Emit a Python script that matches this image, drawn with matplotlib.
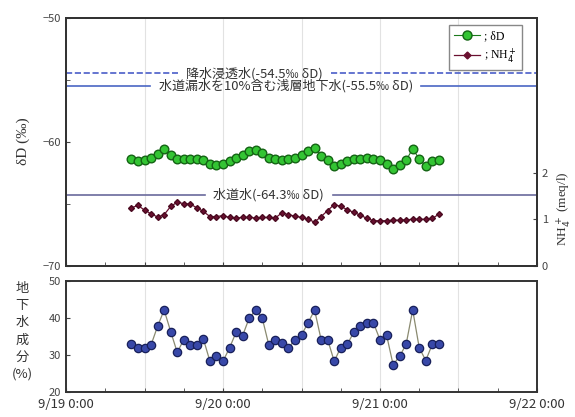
import numpy as np
import matplotlib
matplotlib.use("Agg")
import matplotlib.pyplot as plt
from matplotlib.lines import Line2D

plt.rcParams['font.family'] = ['Noto Sans CJK JP', 'DejaVu Sans']

# hourly samples, hours counted from 9/19 0:00
hours = np.arange(10, 58)

delta_d = [-61.4, -61.6, -61.5, -61.3, -61.0, -60.6, -61.1, -61.4, -61.4, -61.4,
           -61.4, -61.5, -61.8, -61.9, -61.8, -61.6, -61.3, -61.1, -60.8, -60.7,
           -60.9, -61.3, -61.4, -61.5, -61.4, -61.3, -61.1, -60.8, -60.5, -61.2,
           -61.5, -62.0, -61.8, -61.6, -61.4, -61.4, -61.3, -61.4, -61.5, -61.8,
           -62.2, -61.9, -61.5, -60.6, -61.4, -62.0, -61.6, -61.5]

nh4 = [1.25, 1.30, 1.20, 1.12, 1.05, 1.10, 1.28, 1.37, 1.34, 1.33,
       1.25, 1.17, 1.06, 1.06, 1.08, 1.04, 1.03, 1.04, 1.04, 1.03,
       1.04, 1.04, 1.03, 1.14, 1.10, 1.07, 1.04, 1.00, 0.94, 1.06,
       1.19, 1.32, 1.28, 1.21, 1.15, 1.09, 1.02, 0.97, 0.97, 0.97,
       0.98, 0.98, 0.99, 1.00, 1.00, 1.00, 1.02, 1.11]

gw_fraction = [33.0, 32.1, 32.0, 32.8, 37.8, 42.2, 36.4, 30.8, 34.2, 32.8,
               32.8, 34.4, 28.4, 29.7, 28.4, 32.0, 36.2, 35.3, 40.0, 42.2,
               40.0, 32.8, 34.2, 33.2, 32.0, 34.2, 35.5, 38.7, 42.2, 34.2,
               34.2, 28.4, 32.1, 33.0, 36.2, 37.8, 38.7, 38.7, 34.2, 35.5,
               27.5, 29.7, 33.0, 42.2, 32.0, 28.6, 33.0, 33.0]

# reference end-members (δD, ‰)
ref_values = [-54.5, -55.5, -64.3]
ref_labels = ["降水浸透水(-54.5‰ δD)",
              "水道漏水を10%含む浅層地下水(-55.5‰ δD)",
              "水道水(-64.3‰ δD)"]
ref_label_x = [28.8, 33.6, 31.0]
ref_styles = [("--", "#4a5ec8"), ("-", "#4a66c4"), ("-", "#6a6a9c")]

day_ticks = [0, 24, 48, 72]
day_labels = ["9/19 0:00", "9/20 0:00", "9/21 0:00", "9/22 0:00"]

fig = plt.figure(figsize=(5.75, 4.17), dpi=100)
ax = fig.add_axes([0.1148, 0.3633, 0.8191, 0.5947])
ax2 = ax.twinx()
axb = fig.add_axes([0.1148, 0.0588, 0.8191, 0.2674])

tick_col = "#444444"
for a in (ax, axb):
    a.set_xlim(0, 72)
    a.set_xticks(np.arange(0, 73, 6), minor=True)
    a.set_xticks(np.arange(0, 73, 12))
    a.grid(axis="x", which="major", color="#e2e2e2", linewidth=0.8)
    a.tick_params(axis="x", which="both", direction="in", length=3, color=tick_col)
    a.set_axisbelow(True)
for a in (ax, ax2, axb):
    for s in a.spines.values():
        s.set_linewidth(1.4)
        s.set_color("#333333")

# top panel: δD
ax.set_ylim(-70, -50)
ax.set_yticks([-70, -60, -50])
ax.set_yticks([-65, -55], minor=True)
ax.tick_params(axis="y", which="both", direction="in", length=3, labelsize=8,
               labelcolor="#444444", color=tick_col)
ax.tick_params(axis="x", labelbottom=False)

# end-member lines, broken where their labels sit
ref_texts = [ax.text(lx, v, lab, ha="center", va="center", fontsize=9.4,
                     color="#333333", zorder=3)
             for v, lab, lx in zip(ref_values, ref_labels, ref_label_x)]
fig.canvas.draw()
renderer = fig.canvas.get_renderer()
to_data = ax.transData.inverted()
gap = 1.3  # hours left clear on each side of a label
for t, v, (ls, col) in zip(ref_texts, ref_values, ref_styles):
    bb = t.get_window_extent(renderer)
    x0 = to_data.transform((bb.x0, 0))[0] - gap
    x1 = to_data.transform((bb.x1, 0))[0] + gap
    ax.plot([0, x0], [v, v], color=col, linestyle=ls, linewidth=1.2, zorder=2)
    ax.plot([x1, 72], [v, v], color=col, linestyle=ls, linewidth=1.2, zorder=2)

ax.plot(hours, delta_d, color="#1d7a1d", linewidth=0.8, marker="o",
        markersize=6.2, markerfacecolor="#33c433", markeredgecolor="#146414",
        markeredgewidth=1.0, zorder=5)

ax.set_ylabel("δD (‰)", fontsize=11, family="Liberation Serif", color="#333333",
              labelpad=9)

# right axis: NH4+
ax2.set_ylim(0, 5.37)
ax2.set_yticks([0, 1, 2])
ax2.tick_params(axis="y", direction="in", length=3, labelsize=8,
                labelcolor="#444444", color=tick_col)
ax2.plot(hours, nh4, color="#6a1030", linewidth=0.9, marker="D",
         markersize=3.0, markerfacecolor="#6a1030", markeredgecolor="#4a0a20",
         zorder=5)
fig.text(0.980, 0.50, "NH$_4^+$ (meq/l)", rotation=90, ha="center", va="center",
         fontsize=9.5, family="Liberation Serif", color="#333333")

handles = [
    Line2D([], [], color="#1d7a1d", marker="o", markersize=6.5,
           markerfacecolor="#33c433", markeredgecolor="#146414", linewidth=0.8),
    Line2D([], [], color="#6a1030", marker="D", markersize=3.5,
           markerfacecolor="#6a1030", linewidth=0.9),
]
leg = ax2.legend(handles, ["; δD", "; NH$_4^+$"], loc="upper right",
                 bbox_to_anchor=(0.968, 0.970), borderaxespad=0, fancybox=False,
                 framealpha=1, edgecolor="#888888", handlelength=2.2,
                 handletextpad=0.3, borderpad=0.45, labelspacing=0.3,
                 prop={"family": "Liberation Serif", "size": 8.5})
leg.get_frame().set_linewidth(1.0)

# bottom panel: groundwater fraction
axb.set_ylim(20, 50)
axb.set_yticks([20, 30, 40, 50])
axb.tick_params(axis="y", direction="in", length=3, labelsize=8,
                labelcolor="#444444", color=tick_col)
axb.set_xticks(day_ticks, minor=False)
axb.set_xticks(np.arange(0, 73, 6), minor=True)
axb.set_xticklabels(day_labels, fontsize=9.5, color="#333333")
axb.tick_params(axis="x", which="major", pad=4)
for x in np.arange(12, 72, 24):
    axb.axvline(x, color="#e2e2e2", linewidth=0.8, zorder=0)
axb.plot(hours, gw_fraction, color="#8a8a70", linewidth=0.9, marker="o",
         markersize=6.0, markerfacecolor="#3848a8", markeredgecolor="#18205a",
         markeredgewidth=0.9, zorder=5)

fig.text(0.038, 0.205, "地\n下\n水\n成\n分\n(%)", ha="center", va="center",
         fontsize=9.5, color="#333333", linespacing=1.42)

fig.savefig("out.png", dpi=100)
